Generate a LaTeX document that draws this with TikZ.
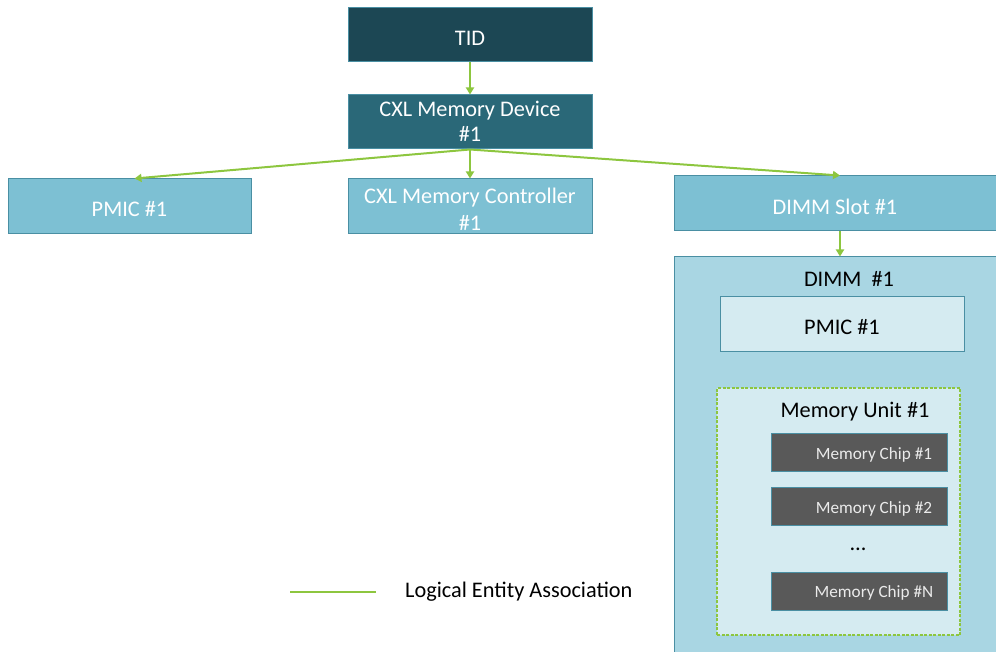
\documentclass[tikz,border=0pt]{standalone}
\usepackage{fontspec}
\setmainfont{Carlito}
\usetikzlibrary{arrows.meta,calc}
\definecolor{tiddark}{HTML}{1C4754}
\definecolor{devteal}{HTML}{2A6878}
\definecolor{lightblue}{HTML}{7DC0D3}
\definecolor{dimmblue}{HTML}{A9D6E3}
\definecolor{paleblue}{HTML}{D5EBF1}
\definecolor{edgeblue}{HTML}{4A8FA3}
\definecolor{chipgrey}{HTML}{595959}
\definecolor{assocgreen}{HTML}{8DC63F}
\newcommand{\lowr}[1]{\raisebox{-3pt}[\height][\depth]{#1}}
\tikzset{
  boxbase/.style={draw=edgeblue, line width=1pt, inner sep=0pt, align=center, text=white},
  bigfont/.style={font=\fontsize{22.3}{25}\selectfont},
  chipfont/.style={font=\fontsize{17.2}{20}\selectfont},
  assoc/.style={draw=assocgreen, line width=2pt, -{Triangle[length=7pt,width=8pt]}},
}
\begin{document}
\begin{tikzpicture}[x=1pt,y=-1pt]
\useasboundingbox (0,0) rectangle (996,652);
% top boxes
\node[boxbase, bigfont, fill=tiddark, minimum width=244pt, minimum height=54pt] (tid) at (470,35) {\lowr{TID}};
\node[boxbase, bigfont, fill=devteal, minimum width=244pt, minimum height=54pt] (dev) at (470,122) {\raisebox{1pt}[\height][\depth]{CXL Memory Device}\\[-1pt]\#1};
\node[boxbase, bigfont, fill=lightblue, minimum width=243pt, minimum height=55pt] (pmicL) at (129.5,206.5) {\lowr{PMIC \#1}};
\node[boxbase, bigfont, fill=lightblue, minimum width=244pt, minimum height=55pt] (ctrl) at (470,206.5) {\lowr{CXL Memory Controller}\\[2pt]\lowr{\#1}};
\node[boxbase, bigfont, fill=lightblue, minimum width=322pt, minimum height=55pt] (slot) at (835,203.5) {\lowr{DIMM Slot \#1}};
% DIMM
\node[boxbase, fill=dimmblue, minimum width=322pt, minimum height=395pt] (dimm) at (835,454.5) {};
\node[bigfont, text=black, inner sep=0pt] (dimmlbl) at (849,279) {DIMM\ \ \#1};
\node[boxbase, bigfont, fill=paleblue, text=black, minimum width=244pt, minimum height=54pt] (pmicR) at (842,324) {\lowr{PMIC \#1}};
% memory unit
\node[draw=assocgreen, fill=paleblue, line width=1.6pt, dashed, dash pattern=on 3pt off 1.5pt, minimum width=243pt, minimum height=247pt, inner sep=0pt] (unit) at (838.5,511.5) {};
\node[bigfont, text=black, inner sep=0pt] (unitlbl) at (855,412) {Memory Unit \#1};
\node[boxbase, fill=chipgrey, minimum width=176pt, minimum height=38pt] (chip1) at (859,452) {};
\node[chipfont, text=white!92!black, inner sep=0pt] (chip1t) at (874,455) {Memory Chip \#1};
\node[boxbase, fill=chipgrey, minimum width=176pt, minimum height=38pt] (chip2) at (859,506) {};
\node[chipfont, text=white!92!black, inner sep=0pt] (chip2t) at (874,509) {Memory Chip \#2};
\node[bigfont, text=black, inner sep=0pt] (dots) at (858,549) {\dots};
\node[boxbase, fill=chipgrey, minimum width=176pt, minimum height=38pt] (chipN) at (859,591) {};
\node[chipfont, text=white!92!black, inner sep=0pt] (chipNt) at (874,593) {Memory Chip \#N};
% connectors
\draw[assoc] (tid.south) -- (dev.north);
\draw[assoc] (dev.south) -- ($(pmicL.north)+(5,0)$);
\draw[assoc] (dev.south) -- (ctrl.north);
\draw[assoc] (dev.south) -- ($(slot.north)+(5,0)$);
\draw[assoc] ($(slot.south)+(5,0)$) -- ($(dimm.north)+(5,0)$);
% legend
\coordinate (legA) at (290,592);
\coordinate (legB) at (376,592);
\draw[draw=assocgreen, line width=1.6pt] (legA) -- (legB);
\node[bigfont, text=black, anchor=west, inner sep=0pt] (legtxt) at (405,592) {Logical Entity Association};
\end{tikzpicture}
\end{document}
